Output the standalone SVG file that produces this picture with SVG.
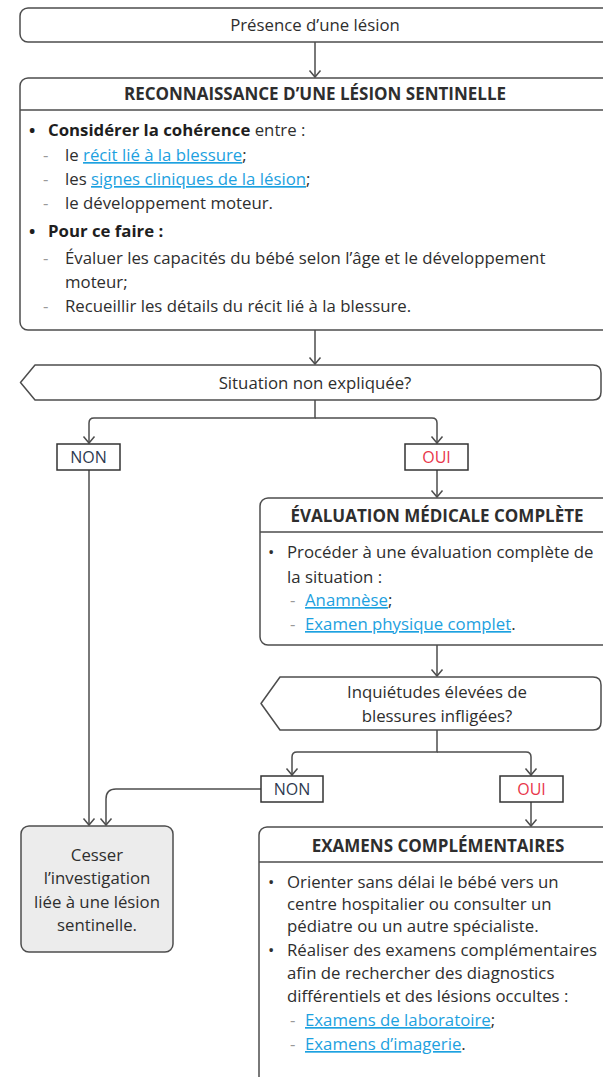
<svg xmlns="http://www.w3.org/2000/svg" width="603" height="1077" viewBox="0 0 603 1077">
  <style>
    .box{fill:#fff;stroke:#4d4d4d;stroke-width:1.5}
    .sq{fill:#fff;stroke:#333;stroke-width:1.5}
    .grey{fill:#ececec}
    .t{font-family:"Open Sans","Noto Sans",sans-serif;font-size:16.8px;fill:#2e2e2e}
    .c{text-anchor:middle}
    .h{font-weight:bold;font-size:17px}
    .b{font-weight:bold;fill:#1e1e1e}
    .lnk{fill:#1da1e0;text-decoration:underline}
    .dash{fill:#999}
    .yn{font-size:16px;fill:#2e3a4f}
    .oui{fill:#e8364a}
    .conn{fill:none;stroke:#4d4d4d;stroke-width:1.5}
  </style>
  <defs>
    <marker id="arr" viewBox="-8 -7 10 14" markerWidth="10" markerHeight="14" refX="0" refY="0" orient="auto" markerUnits="userSpaceOnUse">
      <path d="M-6.5,-5.5 L0,0 L-6.5,5.5" fill="none" stroke="#4d4d4d" stroke-width="1.5"/>
    </marker>
  </defs>
  <rect width="603" height="1077" fill="#fff"/>

  <!-- connectors -->
  <g id="connectors" class="conn">
    <path d="M315,42 V77" marker-end="url(#arr)"/>
    <path d="M315,330 V364" marker-end="url(#arr)"/>
    <path d="M315,400 V418 H94 Q89,418 89,423 V443" marker-end="url(#arr)"/>
    <path d="M315,418 H432 Q437,418 437,423 V443" marker-end="url(#arr)"/>
    <path d="M89,470 V825" marker-end="url(#arr)"/>
    <path d="M437,470 V497" marker-end="url(#arr)"/>
    <path d="M437,645 V676" marker-end="url(#arr)"/>
    <path d="M437,730 V752 H297 Q292,752 292,757 V775" marker-end="url(#arr)"/>
    <path d="M437,752 H526 Q531,752 531,757 V775" marker-end="url(#arr)"/>
    <path d="M261,789 H116 Q106,789 106,799 V825" marker-end="url(#arr)"/>
    <path d="M531,802 V826" marker-end="url(#arr)"/>
  </g>

  <!-- start -->
  <g id="presence">
    <rect class="box" x="20" y="8" width="640" height="34" rx="8"/>
    <text class="t c" x="315" y="31">Présence d’une lésion</text>
  </g>

  <!-- recognition -->
  <g id="reconnaissance">
    <rect class="box" x="20" y="78" width="640" height="252" rx="8"/>
    <line class="conn" x1="20" y1="110" x2="660" y2="110"/>
    <text class="t c h" x="315" y="100">RECONNAISSANCE D’UNE LÉSION SENTINELLE</text>
    <text class="t b" x="29" y="136">•</text>
    <text class="t" x="48" y="136"><tspan class="b">Considérer la cohérence</tspan> entre :</text>
    <text class="t dash" x="43" y="161">-</text>
    <text class="t" x="65" y="161">le <tspan class="lnk">récit lié à la blessure</tspan>;</text>
    <text class="t dash" x="43" y="185">-</text>
    <text class="t" x="65" y="185">les <tspan class="lnk">signes cliniques de la lésion</tspan>;</text>
    <text class="t dash" x="43" y="209">-</text>
    <text class="t" x="65" y="209">le développement moteur.</text>
    <text class="t b" x="29" y="237">•</text>
    <text class="t b" x="48" y="237">Pour ce faire :</text>
    <text class="t dash" x="43" y="264">-</text>
    <text class="t" x="65" y="264">Évaluer les capacités du bébé selon l’âge et le développement</text>
    <text class="t" x="65" y="288">moteur;</text>
    <text class="t dash" x="43" y="312">-</text>
    <text class="t" x="65" y="312">Recueillir les détails du récit lié à la blessure.</text>
  </g>

  <!-- decision 1 -->
  <g id="situation">
    <path class="box" d="M35,365 H593 Q601,365 601,373 V392 Q601,400 593,400 H35 L20.5,382.5 Z" stroke-linejoin="round"/>
    <text class="t c" x="315" y="389">Situation non expliquée?</text>
  </g>
  <g id="non1">
    <rect class="sq" x="57" y="444" width="63" height="26"/>
    <text class="t c yn" x="88.5" y="463">NON</text>
  </g>
  <g id="oui1">
    <rect class="sq" x="405" y="444" width="63" height="26"/>
    <text class="t c yn oui" x="436.5" y="463">OUI</text>
  </g>

  <!-- medical evaluation -->
  <g id="evaluation">
    <rect class="box" x="260" y="498" width="400" height="147" rx="8"/>
    <line class="conn" x1="260" y1="532" x2="660" y2="532"/>
    <text class="t c h" x="437" y="522">ÉVALUATION MÉDICALE COMPLÈTE</text>
    <text class="t" x="268" y="558">•</text>
    <text class="t" x="287" y="558">Procéder à une évaluation complète de</text>
    <text class="t" x="287" y="583">la situation :</text>
    <text class="t dash" x="290" y="606">-</text>
    <text class="t" x="305" y="606"><tspan class="lnk">Anamnèse</tspan>;</text>
    <text class="t dash" x="290" y="630">-</text>
    <text class="t" x="305" y="630"><tspan class="lnk">Examen physique complet</tspan>.</text>
  </g>

  <!-- decision 2 -->
  <g id="inquietudes">
    <path class="box" d="M280,677 H593 Q601,677 601,685 V722 Q601,730 593,730 H280 L261,703.5 Z" stroke-linejoin="round"/>
    <text class="t c" x="437" y="698">Inquiétudes élevées de</text>
    <text class="t c" x="437" y="722">blessures infligées?</text>
  </g>
  <g id="non2">
    <rect class="sq" x="261" y="776" width="62" height="26"/>
    <text class="t c yn" x="292" y="795">NON</text>
  </g>
  <g id="oui2">
    <rect class="sq" x="500" y="776" width="63" height="26"/>
    <text class="t c yn oui" x="531.5" y="795">OUI</text>
  </g>

  <!-- stop -->
  <g id="cesser">
    <rect class="box grey" x="21" y="826" width="152" height="126" rx="8"/>
    <text class="t c" x="97" y="861">Cesser</text>
    <text class="t c" x="97" y="884">l’investigation</text>
    <text class="t c" x="97" y="908">liée à une lésion</text>
    <text class="t c" x="97" y="931">sentinelle.</text>
  </g>

  <!-- further exams -->
  <g id="examens">
    <rect class="box" x="259" y="827" width="400" height="280" rx="8"/>
    <line class="conn" x1="259" y1="862" x2="660" y2="862"/>
    <text class="t c h" x="438" y="852">EXAMENS COMPLÉMENTAIRES</text>
    <text class="t" x="268" y="888">•</text>
    <text class="t" x="287" y="888">Orienter sans délai le bébé vers un</text>
    <text class="t" x="287" y="910">centre hospitalier ou consulter un</text>
    <text class="t" x="287" y="932">pédiatre ou un autre spécialiste.</text>
    <text class="t" x="268" y="956">•</text>
    <text class="t" x="287" y="956">Réaliser des examens complémentaires</text>
    <text class="t" x="287" y="979">afin de rechercher des diagnostics</text>
    <text class="t" x="287" y="1002">différentiels et des lésions occultes :</text>
    <text class="t dash" x="290" y="1026">-</text>
    <text class="t" x="305" y="1026"><tspan class="lnk">Examens de laboratoire</tspan>;</text>
    <text class="t dash" x="290" y="1050">-</text>
    <text class="t" x="305" y="1050"><tspan class="lnk">Examens d’imagerie</tspan>.</text>
  </g>
</svg>
